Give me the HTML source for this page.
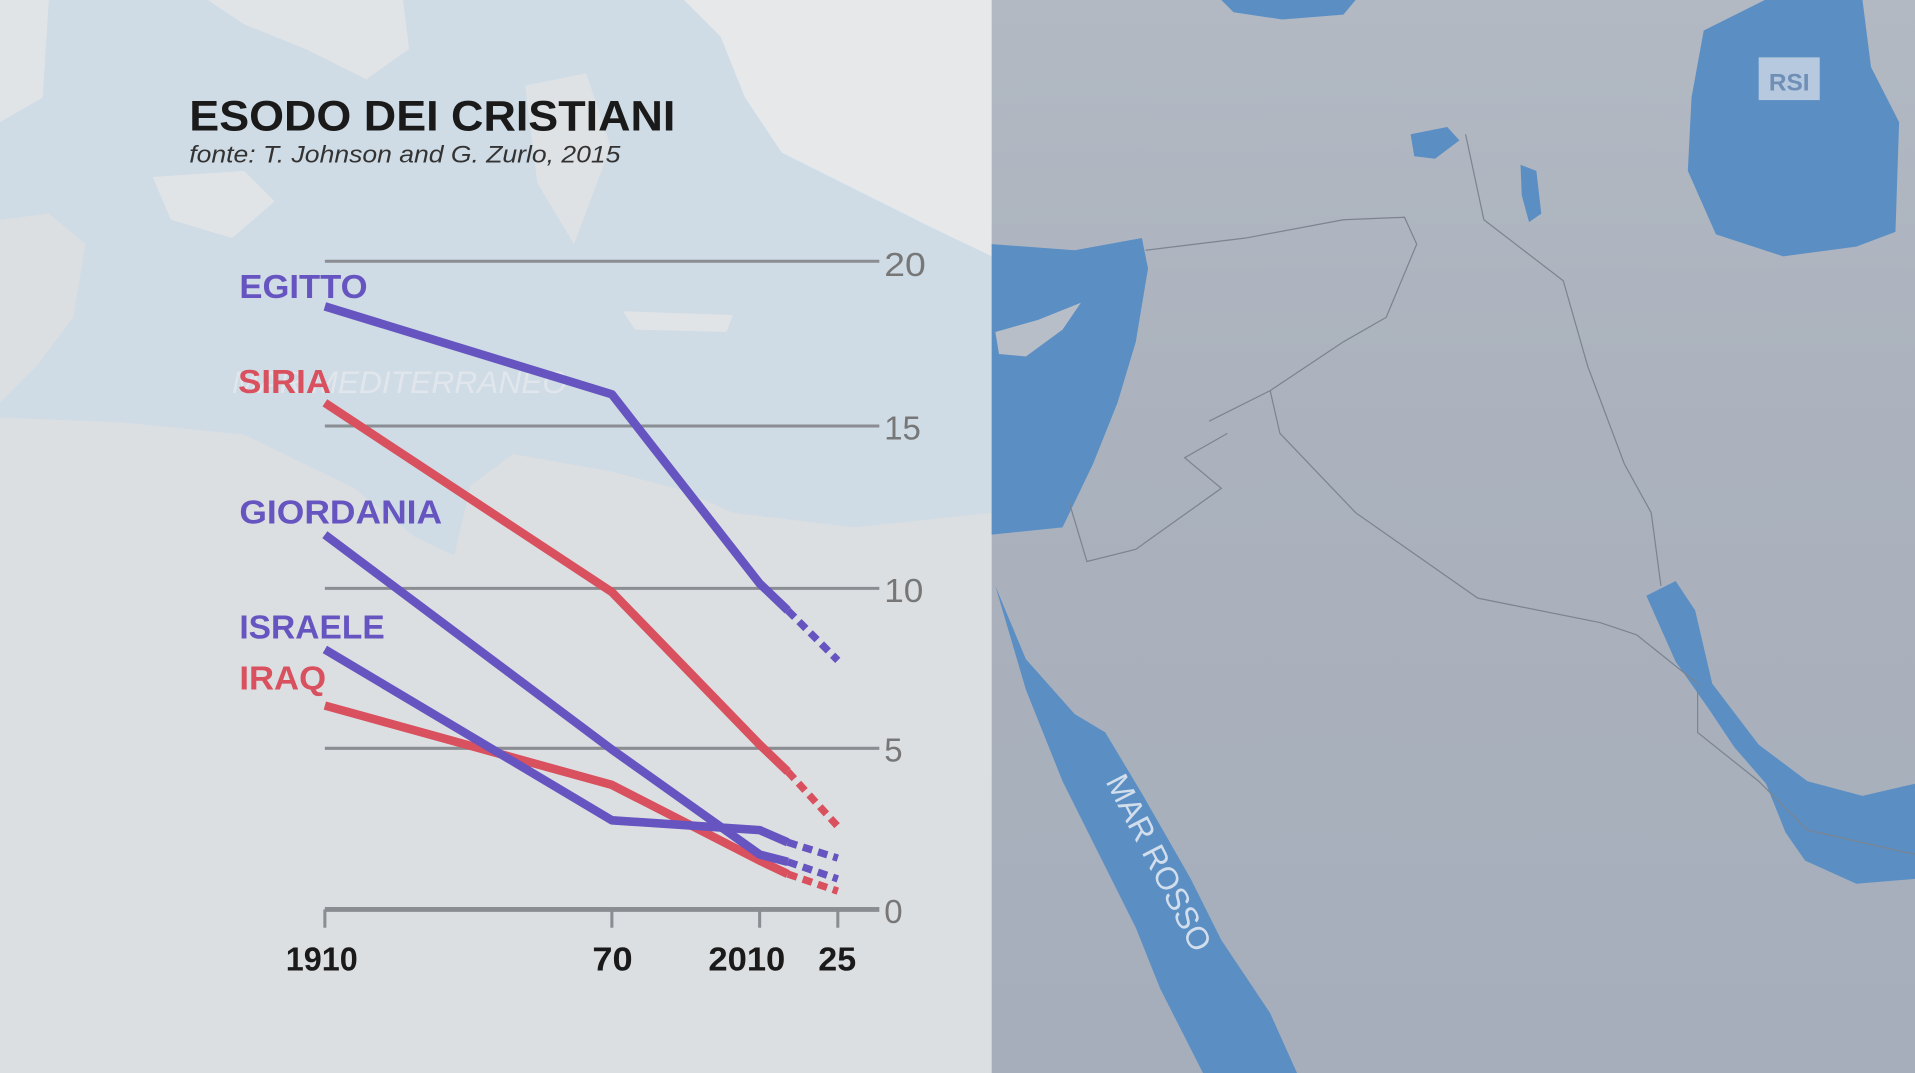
<!DOCTYPE html>
<html><head><meta charset="utf-8"><style>
html,body{margin:0;padding:0;width:1915px;height:1073px;overflow:hidden;background:#dcdfe2}
svg{display:block}
</style></head><body>
<svg width="1915" height="1073" viewBox="0 0 1568 879" preserveAspectRatio="none" xmlns="http://www.w3.org/2000/svg">
<defs>
<linearGradient id="rg" x1="0" y1="0" x2="0" y2="1">
<stop offset="0" stop-color="#b2b9c3"/><stop offset="0.4" stop-color="#abb2bd"/><stop offset="1" stop-color="#a6aebb"/>
</linearGradient>
</defs>
<!-- left map -->
<rect x="0" y="0" width="812" height="879" fill="#dcdfe2"/>
<path d="M0,0 L812,0 L812,420 L700,432 L600,420 L560,402 L500,386 L420,372 L385,398 L372,455 L340,440 L290,400 L200,356 L100,346 L0,342 Z" fill="#cfdbe5"/>
<path d="M0,180 L40,175 L70,200 L60,260 L30,300 L0,330 Z" fill="#dcdfe2"/>
<path d="M170,0 L330,0 L335,40 L300,65 L250,40 L200,20 Z" fill="#e1e4e7"/>
<path d="M0,0 L40,0 L35,80 L0,100 Z" fill="#e1e4e7"/>
<path d="M125,145 L200,140 L225,165 L190,195 L140,180 Z" fill="#e1e4e7"/>
<path d="M560,0 L812,0 L812,210 L760,185 L700,155 L640,125 L610,80 L590,30 Z" fill="#e6e8ea"/>
<path d="M430,70 L480,60 L500,120 L470,200 L440,150 Z" fill="#dfe2e5"/>
<path d="M510,255 L600,258 L595,272 L520,270 Z" fill="#e1e4e7"/>
<!-- right map -->
<rect x="812" y="0" width="756" height="879" fill="url(#rg)"/>
<path d="M812,200 L880,205 L935,195 L940,220 L930,280 L915,330 L895,380 L870,432 L812,438 Z" fill="#5b8fc4"/>
<path d="M815,272 L850,262 L885,248 L870,270 L840,292 L818,290 Z" fill="#b7bec8"/>
<path d="M815,480 L840,540 L880,585 L905,600 L935,650 L975,720 L1000,770 L1040,830 L1062,879 L985,879 L950,810 L930,760 L900,700 L870,640 L840,565 Z" fill="#5b8fc4"/>
<path d="M1395,25 L1445,0 L1525,0 L1532,55 L1555,100 L1552,190 L1520,202 L1460,210 L1405,192 L1382,140 L1385,80 Z" fill="#5b8fc4"/>
<path d="M1000,0 L1110,0 L1100,12 L1050,16 L1010,10 Z" fill="#5b8fc4"/>
<path d="M1348,488 L1372,476 L1388,500 L1402,560 L1440,610 L1480,640 L1525,652 L1568,642 L1568,720 L1520,724 L1478,705 L1462,682 L1446,642 L1420,612 L1400,582 L1372,542 Z" fill="#5b8fc4"/>
<path d="M1155,110 L1185,104 L1195,115 L1175,130 L1158,128 Z" fill="#5b8fc4"/>
<path d="M1245,135 L1258,140 L1262,175 L1252,182 L1246,160 Z" fill="#5b8fc4"/>
<g fill="none" stroke="#7b8490" stroke-width="1">
<path d="M938,205 L1020,195 L1100,180 L1150,178 L1160,200 L1135,260 L1100,280 L1040,320 L990,345"/>
<path d="M1040,320 L1048,355 L1110,420 L1210,490 L1310,510 L1340,520"/>
<path d="M1200,110 L1215,180 L1280,230 L1300,300 L1330,380 L1352,420 L1360,480"/>
<path d="M1005,355 L970,375 L1000,400 L930,450 L890,460 L875,410"/>
<path d="M1340,520 L1390,560 L1390,600 L1440,640 L1480,680 L1568,700"/>
</g>
<text transform="translate(905,640) rotate(63)" font-family="Liberation Sans, sans-serif" font-size="26" fill="#dfe7f0" opacity="0.9">MAR ROSSO</text>
<rect x="1440" y="47" width="50" height="35" fill="#c7d4e3" opacity="0.85"/>
<text x="1465" y="74" text-anchor="middle" font-family="Liberation Sans, sans-serif" font-weight="bold" font-size="20" fill="#6f8fb7">RSI</text>
<!-- title -->
<text x="155" y="107" font-family="Liberation Sans, sans-serif" font-weight="bold" font-size="35" fill="#1a1a1a" textLength="398" lengthAdjust="spacingAndGlyphs">ESODO DEI CRISTIANI</text>
<text x="155" y="133" font-family="Liberation Sans, sans-serif" font-style="italic" font-size="20" fill="#333" textLength="353" lengthAdjust="spacingAndGlyphs">fonte: T. Johnson and G. Zurlo, 2015</text>
<text x="190" y="322" font-family="Liberation Sans, sans-serif" font-style="italic" font-size="26" fill="#e8ecf0" opacity="0.7">MAR MEDITERRANEO</text>
<!-- grid -->
<g stroke="#8a8e92" stroke-width="2.5">
<line x1="266" y1="214" x2="720" y2="214"/>
<line x1="266" y1="349" x2="720" y2="349"/>
<line x1="266" y1="482" x2="720" y2="482"/>
<line x1="266" y1="613" x2="720" y2="613"/>
<line x1="266" y1="745" x2="720" y2="745" stroke-width="4"/>
<line x1="266" y1="745" x2="266" y2="760"/>
<line x1="501" y1="745" x2="501" y2="760"/>
<line x1="622" y1="745" x2="622" y2="760"/>
<line x1="686" y1="745" x2="686" y2="760"/>
</g>
<g font-family="Liberation Sans, sans-serif" font-size="27" fill="#777">
<text x="724" y="226" textLength="34" lengthAdjust="spacingAndGlyphs">20</text><text x="724" y="360" textLength="30" lengthAdjust="spacingAndGlyphs">15</text><text x="724" y="493" textLength="32" lengthAdjust="spacingAndGlyphs">10</text><text x="724" y="624">5</text><text x="724" y="756">0</text>
</g>
<g font-family="Liberation Sans, sans-serif" font-weight="bold" font-size="27" fill="#1a1a1a">
<text x="234" y="795" textLength="59" lengthAdjust="spacingAndGlyphs">1910</text><text x="485" y="795" textLength="33" lengthAdjust="spacingAndGlyphs">70</text><text x="580" y="795" textLength="63" lengthAdjust="spacingAndGlyphs">2010</text><text x="670" y="795" textLength="31" lengthAdjust="spacingAndGlyphs">25</text>
</g>
<!-- series -->
<g fill="none" stroke-width="7" stroke-linecap="butt" stroke-linejoin="round">
<polyline points="266,578 501,643 622,705 645,716" stroke="#d9505e"/>
<polyline points="266,532 501,672 622,680 645,690" stroke="#6655c0"/>
<polyline points="266,438 501,614 622,700 645,706" stroke="#6655c0"/>
<polyline points="266,330 501,485 622,610 645,632" stroke="#d9505e"/>
<polyline points="266,251 501,323 622,478 645,500" stroke="#6655c0"/>
<g stroke-dasharray="8,5" stroke-width="6">
<line x1="645" y1="716" x2="686" y2="730" stroke="#d9505e"/>
<line x1="645" y1="690" x2="686" y2="703" stroke="#6655c0"/>
<line x1="645" y1="706" x2="686" y2="720" stroke="#6655c0"/>
<line x1="645" y1="632" x2="686" y2="677" stroke="#d9505e"/>
<line x1="645" y1="500" x2="686" y2="541" stroke="#6655c0"/>
</g>
</g>
<g font-family="Liberation Sans, sans-serif" font-weight="bold" font-size="27">
<text x="196" y="244" fill="#6655c0" textLength="105" lengthAdjust="spacingAndGlyphs">EGITTO</text>
<text x="195" y="322" fill="#d9505e" textLength="76" lengthAdjust="spacingAndGlyphs">SIRIA</text>
<text x="196" y="429" fill="#6655c0" textLength="166" lengthAdjust="spacingAndGlyphs">GIORDANIA</text>
<text x="196" y="523" fill="#6655c0" textLength="119" lengthAdjust="spacingAndGlyphs">ISRAELE</text>
<text x="196" y="565" fill="#d9505e" textLength="71" lengthAdjust="spacingAndGlyphs">IRAQ</text>
</g>
</svg>
</body></html>
